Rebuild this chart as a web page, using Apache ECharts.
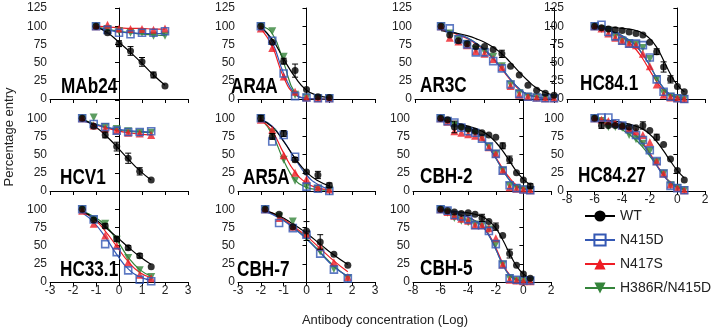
<!DOCTYPE html>
<html>
<head>
<meta charset="utf-8">
<script src="https://cdn.jsdelivr.net/npm/echarts@6/dist/echarts.min.js"></script>
<style>
  html, body { margin: 0; padding: 0; background: #fff; }
  #chart { width: 720px; height: 330px; }
</style>
</head>
<body>
<div id="chart"></div>
<script>
// legend / series names
const seriesNames = ['WT', 'N415D', 'N417S', 'H386R/N415D']
const seriesColors = ['#000000', '#3458b4', '#ee1d25', '#34843a']

// MAb24 (points, then fitted curve read at the same x)
const mab24X = [-1, -0.5, 0, 0.5, 1, 1.5, 2]
const mab24WT = [100, 91, 76, 66, 51, 33, 18]
const mab24N415D = [100, 95, 91, 89, 91, 91, 93]
const mab24N417S = [100, 102, 97, 96, 96, 95, 97]
const mab24H386R = [100, 96, 93, 91, 91, 87, 87]
const mab24Err = [0, 0, 4, 6, 6, 4, 0]
const mab24FitWT = [99, 91, 78, 64, 49, 33, 19]
const mab24FitN415D = [98, 95, 92, 91, 90, 90, 90]
const mab24FitN417S = [100, 99, 98, 97, 97, 96, 96]
const mab24FitH386R = [99, 96, 93, 91, 89, 88, 87]

// HCV1
const hcv1X = [-1.6, -1.1, -0.6, -0.1, 0.4, 0.9, 1.4]
const hcv1WT = [100, 89, 77, 61, 45, 27, 15]
const hcv1N415D = [100, 92, 88, 83, 81, 81, 82]
const hcv1N417S = [100, 90, 86, 83, 80, 79, 77]
const hcv1H386R = [100, 101, 88, 85, 82, 80, 80]
const hcv1Err = [0, 0, 4, 6, 7, 5, 0]
const hcv1FitWT = [99, 90, 77, 61, 44, 28, 15]
const hcv1FitN415D = [97, 92, 88, 85, 83, 82, 81]
const hcv1FitN417S = [97, 92, 87, 83, 80, 78, 77]
const hcv1FitH386R = [98, 93, 88, 84, 82, 81, 80]

// HC33.1
const hc331X = [-1.6, -1.1, -0.6, -0.1, 0.4, 0.9, 1.4]
const hc331WT = [100, 85, 77, 59, 47, 36, 21]
const hc331N415D = [100, 86, 52, 41, 16, 3, 1]
const hc331N417S = [98, 80, 64, 50, 27, 10, 5]
const hc331H386R = [100, 86, 80, 58, 33, 16, 7]
const hc331Err = [0, 0, 3, 3, 3, 3, 0]
const hc331FitWT = [97, 88, 75, 62, 48, 35, 24]
const hc331FitN415D = [95, 82, 62, 38, 18, 7, 3]
const hc331FitN417S = [96, 87, 70, 49, 28, 13, 6]
const hc331FitH386R = [97, 90, 78, 58, 34, 17, 8]

// AR4A
const ar4aX = [-2, -1.5, -1, -0.5, 0, 0.5, 1]
const ar4aWT = [100, 78, 52, 39, 13, 3, 2]
const ar4aN415D = [100, 80, 35, 4, 2, 1, 1]
const ar4aN417S = [97, 70, 31, 10, 2, 1, 1]
const ar4aH386R = [100, 93, 58, 6, 2, 1, 1]
const ar4aErr = [0, 0, 4, 9, 0, 0, 0]
const ar4aFitWT = [99, 82, 55, 30, 12, 5, 2]
const ar4aFitN415D = [99, 78, 35, 7, 1, 0, 0]
const ar4aFitN417S = [97, 72, 30, 6, 1, 0, 0]
const ar4aFitH386R = [100, 90, 50, 8, 1, 0, 0]

// AR5A
const ar5aX = [-2, -1.5, -1, -0.5, 0, 0.5, 1]
const ar5aWT = [100, 75, 79, 43, 26, 22, 8]
const ar5aN415D = [100, 68, 77, 47, 6, 3, 0]
const ar5aN417S = [98, 84, 49, 25, 16, 5, 2]
const ar5aH386R = [100, 80, 43, 14, 6, 3, 1]
const ar5aErr = [4, 4, 4, 3, 0, 5, 3]
const ar5aFitWT = [98, 88, 68, 45, 26, 14, 7]
const ar5aFitN415D = [98, 89, 69, 44, 22, 9, 3]
const ar5aFitN417S = [98, 82, 52, 26, 11, 4, 2]
const ar5aFitH386R = [99, 78, 42, 15, 5, 2, 1]

// CBH-7
const cbh7X = [-1.81, -1.2, -0.6, 0, 0.6, 1.2, 1.81]
const cbh7WT = [100, 93, 76, 70, 55, 38, 23]
const cbh7N415D = [100, 81, 74, 65, 39, 17, 5]
const cbh7N417S = [100, 88, 76, 66, 48, 27, 7]
const cbh7H386R = [100, 90, 83, 60, 42, 18, 5]
const cbh7Err = [0, 0, 0, 13, 10, 0, 0]
const cbh7FitWT = [98, 91, 80, 67, 52, 37, 24]
const cbh7FitN415D = [97, 88, 75, 59, 40, 21, 8]
const cbh7FitN417S = [98, 90, 77, 63, 46, 29, 14]
const cbh7FitH386R = [98, 89, 76, 60, 41, 22, 7]

// AR3C
const ar3cX = [-6.5, -6, -5.5, -5, -4.5, -4, -3.5, -3, -2.5, -2, -1.5, -1, -0.5, 0]
const ar3cWT = [100, 88, 80, 76, 72, 72, 68, 62, 45, 33, 19, 12, 8, 5]
const ar3cN415D = [100, 97, 82, 75, 64, 64, 52, 42, 20, 7, 3, 2, 1, 1]
const ar3cN417S = [100, 84, 79, 74, 66, 62, 55, 44, 18, 6, 3, 2, 1, 1]
const ar3cH386R = [100, 90, 82, 76, 68, 65, 58, 45, 20, 8, 3, 2, 1, 1]
const ar3cErr = [0, 0, 0, 0, 0, 0, 0, 5, 0, 0, 0, 0, 0, 0]
const ar3cFitWT = [94, 92, 90, 87, 83, 78, 71, 62, 50, 37, 25, 15, 9, 5]
const ar3cFitN415D = [96, 93, 89, 84, 77, 68, 56, 42, 27, 14, 6, 3, 1, 1]
const ar3cFitN417S = [95, 92, 88, 83, 76, 67, 55, 41, 26, 13, 6, 3, 1, 1]
const ar3cFitH386R = [96, 93, 89, 84, 77, 68, 56, 42, 27, 14, 6, 3, 1, 1]

// CBH-2
const cbh2X = [-6, -5.5, -5, -4.5, -4, -3.5, -3, -2.5, -2, -1.5, -1, -0.5, 0, 0.5]
const cbh2WT = [100, 98, 88, 88, 85, 82, 80, 77, 74, 62, 43, 25, 15, 7]
const cbh2N415D = [100, 96, 94, 87, 82, 80, 72, 61, 51, 28, 8, 4, 2, 1]
const cbh2N417S = [100, 95, 82, 80, 78, 76, 74, 60, 51, 28, 5, 3, 2, 1]
const cbh2H386R = [100, 96, 90, 85, 82, 79, 73, 61, 51, 28, 7, 4, 2, 1]
const cbh2Err = [0, 0, 8, 0, 0, 0, 0, 0, 0, 4, 5, 0, 0, 3]
const cbh2FitWT = [98, 96, 94, 92, 89, 86, 82, 76, 67, 55, 41, 27, 16, 9]
const cbh2FitN415D = [98, 96, 94, 91, 87, 81, 72, 60, 45, 29, 15, 6, 3, 1]
const cbh2FitN417S = [98, 96, 93, 90, 86, 80, 72, 60, 46, 31, 18, 8, 4, 2]
const cbh2FitH386R = [98, 96, 94, 91, 87, 81, 72, 60, 45, 29, 15, 6, 3, 1]

// CBH-5
const cbh5X = [-6, -5.5, -5, -4.5, -4, -3.5, -3, -2.5, -2, -1.5, -1, -0.5, 0, 0.5]
const cbh5WT = [100, 98, 96, 94, 95, 93, 88, 83, 76, 64, 39, 23, 11, 5]
const cbh5N415D = [100, 98, 92, 90, 86, 78, 78, 70, 52, 24, 5, 3, 2, 2]
const cbh5N417S = [100, 96, 91, 87, 84, 78, 78, 74, 60, 24, 3, 2, 1, 1]
const cbh5H386R = [100, 95, 88, 84, 82, 79, 78, 72, 52, 24, 5, 2, 1, 1]
const cbh5Err = [0, 0, 0, 0, 0, 0, 5, 0, 5, 0, 6, 0, 0, 0]
const cbh5FitWT = [99, 98, 97, 96, 95, 93, 90, 84, 74, 58, 39, 22, 11, 5]
const cbh5FitN415D = [99, 97, 95, 92, 89, 84, 77, 64, 45, 24, 9, 3, 1, 1]
const cbh5FitN417S = [99, 97, 95, 92, 89, 84, 77, 65, 47, 26, 10, 4, 1, 1]
const cbh5FitH386R = [99, 97, 95, 92, 89, 84, 77, 64, 45, 24, 9, 3, 1, 1]

// HC84.1
const hc841X = [-6, -5.5, -5, -4.5, -4, -3.5, -3, -2.5, -2, -1.5, -1, -0.5, 0, 0.5]
const hc841WT = [100, 98, 96, 95, 94, 92, 90, 88, 78, 65, 44, 27, 17, 10]
const hc841N415D = [100, 102, 92, 86, 80, 76, 76, 74, 57, 27, 10, 3, 1, 0]
const hc841N417S = [100, 97, 90, 84, 80, 76, 74, 62, 45, 20, 6, 2, 1, 0]
const hc841H386R = [100, 96, 93, 86, 80, 77, 75, 70, 55, 27, 8, 3, 1, 0]
const hc841Err = [0, 0, 0, 0, 0, 0, 0, 0, 0, 4, 7, 5, 0, 0]
const hc841FitWT = [100, 99, 99, 98, 97, 96, 94, 90, 83, 71, 53, 34, 19, 10]
const hc841FitN415D = [99, 97, 94, 91, 87, 81, 73, 61, 46, 29, 15, 6, 2, 1]
const hc841FitN417S = [99, 97, 94, 90, 85, 78, 68, 55, 39, 24, 12, 5, 2, 1]
const hc841FitH386R = [99, 97, 94, 91, 87, 81, 73, 61, 46, 29, 15, 6, 2, 1]

// HC84.27
const hc8427X = [-6, -5.5, -5, -4.5, -4, -3.5, -3, -2.5, -2, -1.5, -1, -0.5, 0, 0.5]
const hc8427WT = [100, 90, 90, 90, 89, 88, 87, 90, 83, 74, 64, 44, 28, 15]
const hc8427N415D = [100, 101, 101, 93, 90, 85, 77, 70, 56, 41, 24, 7, 4, 1]
const hc8427N417S = [100, 98, 96, 93, 90, 86, 82, 77, 67, 41, 24, 9, 4, 1]
const hc8427H386R = [100, 96, 88, 88, 87, 77, 71, 65, 55, 40, 24, 8, 4, 1]
const hc8427Err = [0, 4, 0, 0, 0, 0, 0, 5, 0, 4, 0, 0, 0, 0]
const hc8427FitWT = [99, 98, 97, 96, 94, 92, 89, 85, 78, 68, 55, 41, 28, 18]
const hc8427FitN415D = [99, 98, 96, 93, 89, 83, 75, 64, 50, 35, 21, 11, 5, 2]
const hc8427FitN417S = [99, 98, 96, 94, 90, 85, 77, 66, 52, 36, 22, 11, 5, 2]
const hc8427FitH386R = [98, 96, 93, 89, 84, 78, 70, 60, 48, 35, 22, 12, 6, 3]

const cols = [
  { left: 50, width: 138 },
  { left: 238, width: 137 },
  { left: 413, width: 138 },
  { left: 567, width: 138 },
]
const rows = [8, 100, 191]
const rowHeight = 91

const panels = [
  { name: 'MAb24', col: 0, row: 0, x: mab24X, ys: [mab24WT, mab24N415D, mab24N417S, mab24H386R], fit: [mab24FitWT, mab24FitN415D, mab24FitN417S, mab24FitH386R], err: mab24Err, xr: [-3, 3, 1], label: false, t: [61, 97] },
  { name: 'HCV1', col: 0, row: 1, x: hcv1X, ys: [hcv1WT, hcv1N415D, hcv1N417S, hcv1H386R], fit: [hcv1FitWT, hcv1FitN415D, hcv1FitN417S, hcv1FitH386R], err: hcv1Err, xr: [-3, 3, 1], label: false, t: [60, 188] },
  { name: 'HC33.1', col: 0, row: 2, x: hc331X, ys: [hc331WT, hc331N415D, hc331N417S, hc331H386R], fit: [hc331FitWT, hc331FitN415D, hc331FitN417S, hc331FitH386R], err: hc331Err, xr: [-3, 3, 1], label: true, t: [60, 280] },
  { name: 'AR4A', col: 1, row: 0, x: ar4aX, ys: [ar4aWT, ar4aN415D, ar4aN417S, ar4aH386R], fit: [ar4aFitWT, ar4aFitN415D, ar4aFitN417S, ar4aFitH386R], err: ar4aErr, xr: [-3, 3, 1], label: false, t: [231, 97] },
  { name: 'AR5A', col: 1, row: 1, x: ar5aX, ys: [ar5aWT, ar5aN415D, ar5aN417S, ar5aH386R], fit: [ar5aFitWT, ar5aFitN415D, ar5aFitN417S, ar5aFitH386R], err: ar5aErr, xr: [-3, 3, 1], label: false, t: [243, 188] },
  { name: 'CBH-7', col: 1, row: 2, x: cbh7X, ys: [cbh7WT, cbh7N415D, cbh7N417S, cbh7H386R], fit: [cbh7FitWT, cbh7FitN415D, cbh7FitN417S, cbh7FitH386R], err: cbh7Err, xr: [-3, 3, 1], label: true, t: [237, 280] },
  { name: 'AR3C', col: 2, row: 0, x: ar3cX, ys: [ar3cWT, ar3cN415D, ar3cN417S, ar3cH386R], fit: [ar3cFitWT, ar3cFitN415D, ar3cFitN417S, ar3cFitH386R], err: ar3cErr, xr: [-8, 0, 2], label: false, t: [420, 96], box: { left: 415, width: 139 } },
  { name: 'CBH-2', col: 2, row: 1, x: cbh2X, ys: [cbh2WT, cbh2N415D, cbh2N417S, cbh2H386R], fit: [cbh2FitWT, cbh2FitN415D, cbh2FitN417S, cbh2FitH386R], err: cbh2Err, xr: [-8, 2, 2], label: false, t: [420, 187] },
  { name: 'CBH-5', col: 2, row: 2, x: cbh5X, ys: [cbh5WT, cbh5N415D, cbh5N417S, cbh5H386R], fit: [cbh5FitWT, cbh5FitN415D, cbh5FitN417S, cbh5FitH386R], err: cbh5Err, xr: [-8, 2, 2], label: true, t: [420, 279] },
  { name: 'HC84.1', col: 3, row: 0, x: hc841X, ys: [hc841WT, hc841N415D, hc841N417S, hc841H386R], fit: [hc841FitWT, hc841FitN415D, hc841FitN417S, hc841FitH386R], err: hc841Err, xr: [-8, 2, 2], label: false, t: [580, 94] },
  { name: 'HC84.27', col: 3, row: 1, x: hc8427X, ys: [hc8427WT, hc8427N415D, hc8427N417S, hc8427H386R], fit: [hc8427FitWT, hc8427FitN415D, hc8427FitN417S, hc8427FitH386R], err: hc8427Err, xr: [-8, 2, 2], label: true, t: [578, 186] },
]

const markers = [
  { symbol: 'circle', size: 7, style: { color: '#000' } },
  { symbol: 'rect', size: 7, style: { color: 'rgba(255,255,255,0)', borderColor: seriesColors[1], borderWidth: 1.6 } },
  { symbol: 'triangle', size: 8, style: { color: seriesColors[2] } },
  { symbol: 'triangle', size: 8, rotate: 180, style: { color: seriesColors[3] } },
]
const drawOrder = [3, 2, 1, 0]

const font = '"Liberation Sans", Arial, sans-serif'
const grids = []
const xAxes = []
const yAxes = []
const series = []
const graphics = []

panels.forEach((p, i) => {
  const box = p.box || cols[p.col]
  grids.push({ left: box.left, width: box.width, top: rows[p.row], height: rowHeight })
  xAxes.push({
    type: 'value',
    gridIndex: i,
    min: p.xr[0],
    max: p.xr[1],
    interval: p.xr[2],
    axisLine: { onZero: false, lineStyle: { color: '#000', width: 1 } },
    axisTick: { show: true, length: 4, lineStyle: { color: '#000' } },
    axisLabel: { show: p.label, color: '#222', fontSize: 12, fontFamily: font, margin: 3 },
    splitLine: { show: false },
  })
  yAxes.push({
    type: 'value',
    gridIndex: i,
    min: 0,
    max: 125,
    interval: 25,
    axisLine: { show: true, lineStyle: { color: '#000', width: 1 } },
    axisTick: { show: true, length: 4, lineStyle: { color: '#000' } },
    axisLabel: {
      color: '#222',
      fontSize: 12,
      fontFamily: font,
      margin: 3,
      formatter: v => (v === 125 && p.row > 0 ? '' : String(v)),
    },
    splitLine: { show: false },
  })
  // fitted curves (carry the legend icon: line + marker)
  drawOrder.forEach(k => {
    const m = markers[k]
    series.push({
      name: seriesNames[k],
      type: 'line',
      xAxisIndex: i,
      yAxisIndex: i,
      smooth: 0.5,
      symbol: m.symbol,
      symbolSize: m.size,
      symbolRotate: m.rotate || 0,
      showSymbol: false,
      lineStyle: { color: seriesColors[k], width: 1.2 },
      itemStyle: m.style,
      z: 2,
      data: p.x.map((x, j) => [x, p.fit[k][j]]),
    })
  })
  // measured points
  drawOrder.forEach(k => {
    const m = markers[k]
    series.push({
      name: seriesNames[k],
      type: 'scatter',
      xAxisIndex: i,
      yAxisIndex: i,
      symbol: m.symbol,
      symbolSize: m.size,
      symbolRotate: m.rotate || 0,
      itemStyle: m.style,
      z: 3 + (3 - k),
      data: p.x.map((x, j) => [x, p.ys[k][j]]),
    })
  })
  series.push({
    type: 'custom',
    xAxisIndex: i,
    yAxisIndex: i,
    z: 10,
    silent: true,
    data: p.x.map((x, j) => [x, p.ys[0][j], p.err[j]]).filter(d => d[2] > 0),
    renderItem: (params, api) => {
      const top = api.coord([api.value(0), api.value(1) + api.value(2)])
      const bot = api.coord([api.value(0), api.value(1) - api.value(2)])
      const w = 3
      const st = { stroke: '#000', lineWidth: 1 }
      return {
        type: 'group',
        children: [
          { type: 'line', shape: { x1: top[0], y1: top[1], x2: bot[0], y2: bot[1] }, style: st },
          { type: 'line', shape: { x1: top[0] - w, y1: top[1], x2: top[0] + w, y2: top[1] }, style: st },
          { type: 'line', shape: { x1: bot[0] - w, y1: bot[1], x2: bot[0] + w, y2: bot[1] }, style: st },
        ],
      }
    },
  })
  graphics.push({
    type: 'text',
    x: p.t[0],
    y: p.t[1] + 1,
    scaleX: 0.78,
    z: 20,
    style: { text: p.name, font: 'bold 22px ' + font, fill: '#000', verticalAlign: 'bottom' },
  })
})

graphics.push({
  type: 'text',
  x: 9,
  y: 137,
  rotation: Math.PI / 2,
  style: { text: 'Percentage entry', font: '13px ' + font, fill: '#222', align: 'center', verticalAlign: 'middle' },
})
graphics.push({
  type: 'text',
  x: 385,
  y: 320,
  style: { text: 'Antibody concentration (Log)', font: '13px ' + font, fill: '#222', align: 'center', verticalAlign: 'middle' },
})

const chart = echarts.init(document.getElementById('chart'))
chart.setOption({
  animation: false,
  backgroundColor: '#fff',
  grid: grids,
  xAxis: xAxes,
  yAxis: yAxes,
  legend: {
    data: seriesNames,
    orient: 'vertical',
    left: 579,
    top: 204,
    itemWidth: 30,
    itemHeight: 14,
    itemGap: 10,
    textStyle: { color: '#222', fontSize: 14, fontFamily: font },
  },
  graphic: graphics,
  series: series,
})
</script>
</body>
</html>
